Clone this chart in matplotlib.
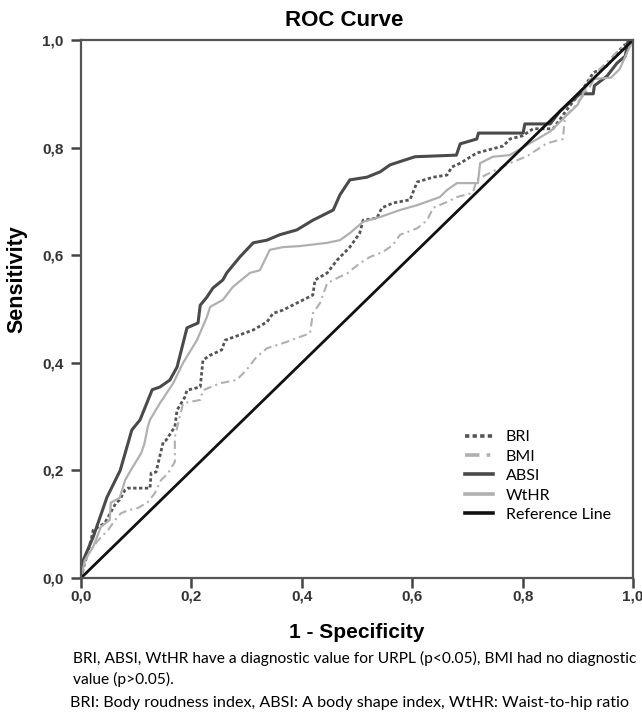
import numpy as np
import matplotlib
matplotlib.use('Agg')
import matplotlib.pyplot as plt

# ROC points (1 - specificity, sensitivity)
absi_x = [0, 0.004, 0.022, 0.047, 0.071, 0.08, 0.092, 0.107, 0.129, 0.143, 0.161, 0.174, 0.192, 0.212, 0.216,
          0.228, 0.239, 0.257, 0.264, 0.288, 0.312, 0.337, 0.36, 0.391, 0.42, 0.457, 0.469, 0.487, 0.518, 0.542,
          0.56, 0.605, 0.68, 0.687, 0.717, 0.72, 0.801, 0.804, 0.85, 0.868, 0.904, 0.928, 0.93, 0.953, 0.971,
          0.986, 0.991, 1.0]
absi_y = [0, 0.033, 0.076, 0.15, 0.2, 0.232, 0.275, 0.294, 0.35, 0.355, 0.368, 0.392, 0.465, 0.474, 0.507,
          0.522, 0.539, 0.554, 0.567, 0.597, 0.623, 0.628, 0.638, 0.647, 0.665, 0.684, 0.712, 0.74, 0.745, 0.755,
          0.768, 0.783, 0.786, 0.807, 0.816, 0.827, 0.827, 0.844, 0.844, 0.868, 0.9, 0.9, 0.915, 0.933, 0.957,
          0.97, 0.998, 1.0]

wthr_x = [0, 0.007, 0.022, 0.036, 0.052, 0.054, 0.07, 0.08, 0.09, 0.109, 0.115, 0.121, 0.125, 0.143, 0.167,
          0.185, 0.21, 0.228, 0.234, 0.257, 0.275, 0.306, 0.324, 0.342, 0.366, 0.397, 0.446, 0.469, 0.487, 0.511,
          0.542, 0.578, 0.609, 0.65, 0.663, 0.681, 0.719, 0.723, 0.746, 0.777, 0.8, 0.85, 0.88, 0.9, 0.922, 0.96,
          0.976, 0.989, 1.0]
wthr_y = [0, 0.033, 0.058, 0.095, 0.108, 0.14, 0.149, 0.182, 0.2, 0.232, 0.25, 0.281, 0.294, 0.325, 0.362,
          0.4, 0.442, 0.485, 0.504, 0.517, 0.541, 0.567, 0.572, 0.61, 0.615, 0.617, 0.623, 0.628, 0.641, 0.662,
          0.671, 0.684, 0.693, 0.708, 0.721, 0.734, 0.734, 0.771, 0.783, 0.786, 0.8, 0.83, 0.86, 0.88, 0.927, 0.93,
          0.946, 0.976, 1.0]

bri_x = [0, 0.01, 0.018, 0.022, 0.043, 0.063, 0.07, 0.08, 0.085, 0.125, 0.127, 0.136, 0.149, 0.154, 0.163,
         0.17, 0.174, 0.188, 0.192, 0.216, 0.221, 0.234, 0.255, 0.261, 0.288, 0.312, 0.337, 0.348, 0.366, 0.391,
         0.42, 0.424, 0.446, 0.464, 0.487, 0.505, 0.511, 0.536, 0.545, 0.565, 0.596, 0.609, 0.638, 0.663, 0.672,
         0.687, 0.717, 0.765, 0.777, 0.8, 0.819, 0.855, 0.88, 0.91, 0.928, 0.953, 0.982, 1.0]
bri_y = [0, 0.04, 0.07, 0.089, 0.102, 0.139, 0.145, 0.164, 0.167, 0.167, 0.195, 0.197, 0.253, 0.256, 0.27,
         0.281, 0.312, 0.336, 0.349, 0.355, 0.405, 0.414, 0.424, 0.442, 0.452, 0.461, 0.476, 0.492, 0.498, 0.511,
         0.526, 0.554, 0.567, 0.591, 0.615, 0.641, 0.665, 0.669, 0.688, 0.697, 0.703, 0.736, 0.745, 0.749, 0.764,
         0.771, 0.79, 0.803, 0.816, 0.822, 0.835, 0.835, 0.87, 0.91, 0.939, 0.952, 0.989, 1.0]

bmi_x = [0, 0.013, 0.031, 0.049, 0.062, 0.072, 0.085, 0.103, 0.121, 0.134, 0.145, 0.158, 0.17, 0.17, 0.185,
         0.216, 0.221, 0.252, 0.282, 0.3, 0.318, 0.337, 0.373, 0.391, 0.415, 0.42, 0.433, 0.446, 0.469, 0.482,
         0.505, 0.524, 0.547, 0.565, 0.578, 0.609, 0.627, 0.638, 0.663, 0.681, 0.71, 0.717, 0.777, 0.808, 0.844,
         0.873, 0.877, 0.891, 0.92, 0.94, 0.976, 1.0]
bmi_y = [0, 0.046, 0.07, 0.089, 0.108, 0.12, 0.126, 0.13, 0.141, 0.158, 0.182, 0.195, 0.216, 0.262, 0.325,
         0.331, 0.349, 0.362, 0.368, 0.387, 0.411, 0.427, 0.439, 0.446, 0.455, 0.492, 0.511, 0.548, 0.56, 0.566,
         0.585, 0.597, 0.606, 0.619, 0.638, 0.65, 0.665, 0.688, 0.699, 0.708, 0.716, 0.741, 0.771, 0.784, 0.808,
         0.816, 0.859, 0.872, 0.91, 0.946, 0.983, 1.0]

ticks = [0.0, 0.2, 0.4, 0.6, 0.8, 1.0]
tick_labels = ['0,0', '0,2', '0,4', '0,6', '0,8', '1,0']

note1 = 'BRI, ABSI, WtHR have a diagnostic value for URPL (p<0.05), BMI had no diagnostic'
note2 = 'value (p>0.05).'
note3 = 'BRI: Body roudness index, ABSI: A body shape index, WtHR: Waist-to-hip ratio'

plt.rcParams['font.family'] = ['Liberation Sans', 'DejaVu Sans']

fig = plt.figure(figsize=(6.42, 7.12), dpi=100)
ax = fig.add_axes([81/642, 1-578/712, 552/642, 538/712])

ax.plot(bri_x, bri_y, color='#555555', lw=2, ls=(0, (1.2, 0.9)), label='BRI')
ax.plot(bmi_x, bmi_y, color='#b0b0b0', lw=1.5, ls=(0, (4, 2, 1, 2)), label='BMI')
ax.plot(absi_x, absi_y, color='#4a4a4a', lw=2.2, label='ABSI')
ax.plot(wthr_x, wthr_y, color='#b0b0b0', lw=1.6, label='WtHR')
ax.plot([0, 1], [0, 1], color='#111111', lw=2, label='Reference Line')

ax.set_xlim(0, 1)
ax.set_ylim(0, 1)
ax.set_xticks(ticks)
ax.set_xticklabels(tick_labels, fontweight='bold')
ax.set_yticks(ticks)
ax.set_yticklabels(tick_labels, fontweight='bold')
ax.tick_params(direction='out', length=7.5, width=1.8, color='#444444', labelsize=11, labelcolor='#333333')
ax.tick_params(axis='x', pad=1)
ax.tick_params(axis='y', pad=5)
for s in ax.spines.values():
    s.set_color('#555555')
    s.set_linewidth(1.6)

ax.set_title('ROC Curve', fontsize=16, fontweight='bold', x=(344-81)/552, pad=10)
ax.set_xlabel('1 - Specificity', fontsize=15, fontweight='bold', va='center')
ax.xaxis.set_label_coords(0.5, (578-632)/538)
ax.set_ylabel('Sensitivity', fontsize=15.5, fontweight='bold', va='center')
ax.yaxis.set_label_coords((17-81)/552, (578-279)/538)

leg = ax.legend(loc='upper left', bbox_to_anchor=((465-81)/552, (578-430)/538), frameon=False,
                prop={'family': 'Lato', 'size': 11.5}, handlelength=1.75, handletextpad=0.8,
                labelspacing=0.33, borderaxespad=0, borderpad=0)
for h in leg.get_lines():
    h.set_linewidth(2.6)

fig.text(73/642, 1-658/712, note1, fontsize=11.2, family='Lato', va='center')
fig.text(73/642, 1-679/712, note2, fontsize=11.2, family='Lato', va='center')
fig.text(70/642, 1-703/712, note3, fontsize=11.6, family='Lato', va='center')

fig.savefig('out.png', dpi=100)
